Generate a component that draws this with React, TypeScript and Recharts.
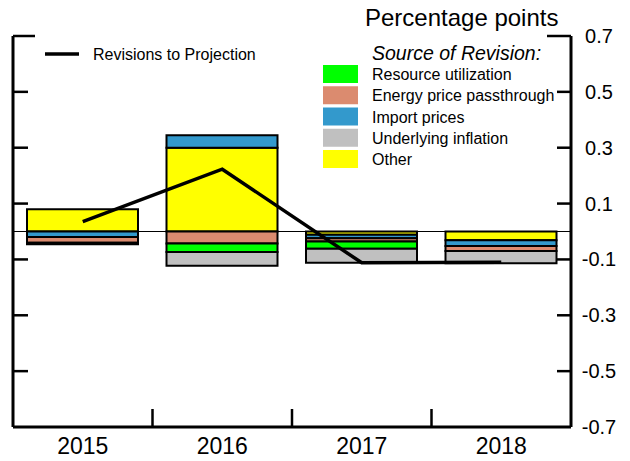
import { ComposedChart, XAxis, YAxis, Bar, Line, ReferenceLine } from 'recharts';

const years = ['2015', '2016', '2017', '2018'];
const other = [0.08, 0.3, -0.012, -0.031];
const importPrices = [-0.02, 0.045, -0.012, -0.021];
const energyPass = [-0.02, -0.043, -0.012, -0.018];
const resourceUtil = [-0.006, -0.03, -0.026, 0];
const underlying = [0, -0.05, -0.05, -0.044];
const revisions = [0.035, 0.223, -0.112, -0.11];
const yTicks = [-0.7, -0.5, -0.3, -0.1, 0.1, 0.3, 0.5, 0.7];

const FONT = 'Arial, "Liberation Sans", sans-serif';
const W = 630;
const H = 461;
const M = { top: 36, right: 0, bottom: 0, left: 13 };
const RIGHT_W = 59;
const X_H = 34;
const BAND = (W - M.left - RIGHT_W) / years.length;

// stacking order matters: Other, Import, Energy, Resource, Underlying
const series = [
  { key: 'other', name: 'Other', color: '#ffff00' },
  { key: 'importPrices', name: 'Import prices', color: '#3399cc' },
  { key: 'energyPass', name: 'Energy price passthrough', color: '#db8b6f' },
  { key: 'resourceUtil', name: 'Resource utilization', color: '#00ff00' },
  { key: 'underlying', name: 'Underlying inflation', color: '#c0c0c0' },
];
const legendOrder = ['resourceUtil', 'energyPass', 'importPrices', 'underlying', 'other'];

const rows = years.map((year, i) => ({
  year,
  other: other[i],
  importPrices: importPrices[i],
  energyPass: energyPass[i],
  resourceUtil: resourceUtil[i],
  underlying: underlying[i],
  revisions: revisions[i],
}));

const isTop = (v: number) => Math.abs(v - 0.7) < 1e-9;
const isBottom = (v: number) => Math.abs(v + 0.7) < 1e-9;

// right axis tick: inward tick on both frame sides + label outside
const RightTick = (props: any) => {
  const { x, y, payload } = props;
  const v = payload.value;
  const rLen = isTop(v) ? 24 : 14;
  const lLen = isTop(v) ? 22 : 15;
  return (
    <g>
      {!isBottom(v) && (
        <>
          <line x1={x - rLen} x2={x} y1={y} y2={y} stroke='#000' strokeWidth={2.5} />
          <line x1={M.left} x2={M.left + lLen} y1={y} y2={y} stroke='#000' strokeWidth={2.5} />
        </>
      )}
      <text x={x + 28} y={y + 7} textAnchor='middle' fontSize={20} fontFamily={FONT} fill='#000'>
        {v.toFixed(1)}
      </text>
    </g>
  );
};

const XTick = (props: any) => {
  const { x, y, payload, index } = props;
  return (
    <g>
      {index < years.length - 1 && (
        <line x1={x + BAND / 2} x2={x + BAND / 2} y1={y} y2={y - 18} stroke='#000' strokeWidth={2.5} />
      )}
      <text x={x} y={y + 27} textAnchor='middle' fontSize={23} fontFamily={FONT} fill='#000'>
        {payload.value}
      </text>
    </g>
  );
};

const Overlay = () => {
  const byKey = Object.fromEntries(series.map((s) => [s.key, s]));
  return (
    <svg width={W} height={H} style={{ position: 'absolute', left: 0, top: 0, pointerEvents: 'none' }}>
      <text x={365} y={26} fontSize={24} fontFamily={FONT} fill='#000'>
        Percentage points
      </text>
      <line x1={45} x2={79} y1={54} y2={54} stroke='#000' strokeWidth={3.5} />
      <text x={93} y={60} fontSize={16} fontFamily={FONT} fill='#000'>
        Revisions to Projection
      </text>
      <text x={372} y={60} fontSize={19.5} fontStyle='italic' fontFamily={FONT} fill='#000'>
        Source of Revision:
      </text>
      {legendOrder.map((k, i) => (
        <g key={k}>
          <rect x={323} y={65 + i * 21.25} width={35} height={18} fill={byKey[k].color} />
          <text x={372} y={80 + i * 21.25} fontSize={16} fontFamily={FONT} fill='#000'>
            {byKey[k].name}
          </text>
        </g>
      ))}
    </svg>
  );
};

const App = () => {
  return (
    <div style={{ position: 'absolute', left: 0, top: 0, width: W, height: H, fontFamily: FONT }}>
      <ComposedChart width={W} height={H} data={rows} margin={M} stackOffset='sign' barSize={111}>
        <XAxis
          dataKey='year'
          height={X_H}
          interval={0}
          axisLine={{ stroke: '#000', strokeWidth: 3 }}
          tickLine={false}
          tickSize={0}
          tickMargin={0}
          tick={<XTick />}
        />
        <YAxis
          yAxisId='r'
          orientation='right'
          width={RIGHT_W}
          domain={[-0.7, 0.7]}
          ticks={yTicks}
          interval={0}
          axisLine={{ stroke: '#000', strokeWidth: 3 }}
          tickLine={false}
          tickSize={0}
          tickMargin={0}
          tick={<RightTick />}
        />
        {/* left frame edge */}
        <ReferenceLine yAxisId='r' x={years[0]} position='start' stroke='#000' strokeWidth={3} />
        <ReferenceLine yAxisId='r' y={0} stroke='#000' strokeWidth={1} />
        {series.map((s) => (
          <Bar
            key={s.key}
            yAxisId='r'
            dataKey={s.key}
            name={s.name}
            stackId='a'
            fill={s.color}
            stroke='#000'
            strokeWidth={2}
            isAnimationActive={false}
          />
        ))}
        <Line
          yAxisId='r'
          dataKey='revisions'
          stroke='#000'
          strokeWidth={3.5}
          dot={false}
          activeDot={false}
          isAnimationActive={false}
        />
      </ComposedChart>
      <Overlay />
    </div>
  );
};

export default App;
